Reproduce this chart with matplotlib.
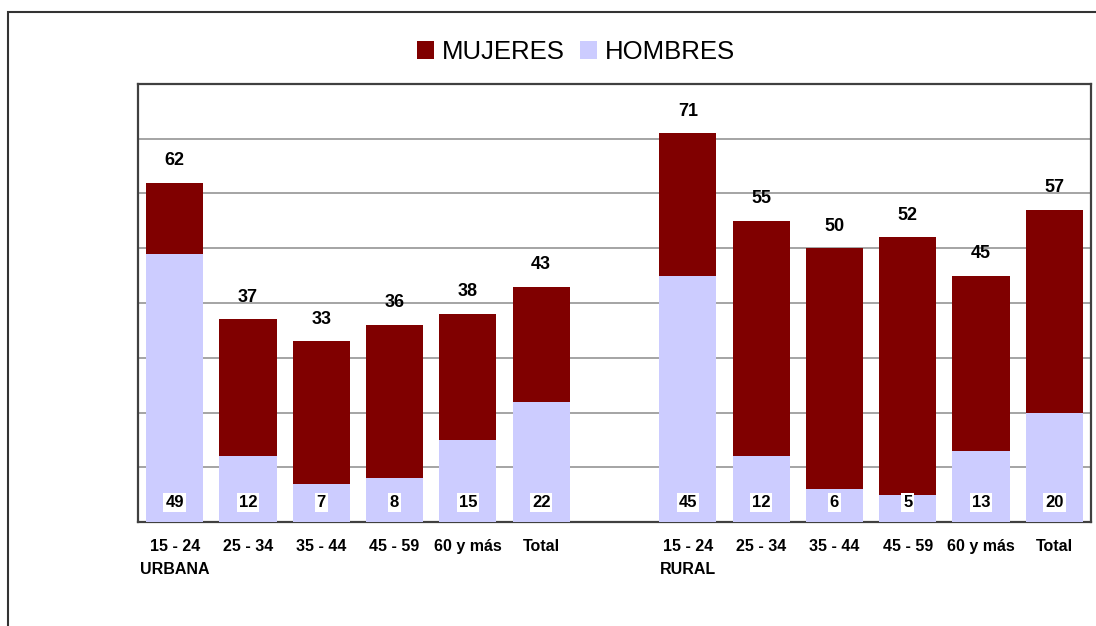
import numpy as np
import matplotlib.pyplot as plt
from matplotlib.patches import Patch, Rectangle

plt.rcParams['font.family'] = ['Liberation Sans', 'DejaVu Sans']

# Data (blank slot separates the two groups)
categories = ["15 - 24\nURBANA", "25 - 34", "35 - 44", "45 - 59", "60 y más", "Total", "",
              "15 - 24\nRURAL", "25 - 34", "35 - 44", "45 - 59", "60 y más", "Total"]
mujeres = [62, 37, 33, 36, 38, 43, None, 71, 55, 50, 52, 45, 57]
hombres = [49, 12, 7, 8, 15, 22, None, 45, 12, 6, 5, 13, 20]

C_MUJ = "#800000"
C_HOM = "#CCCCFF"

fig = plt.figure(figsize=(10.96, 6.26), dpi=100)

# outer frame (runs off the right and bottom edges)
fig.patches.append(Rectangle((8 / 1096, -0.2), 1.2, (626 - 12) / 626 + 0.2,
                             transform=fig.transFigure, fill=False,
                             edgecolor="#333333", linewidth=1.5))

ax = fig.add_axes([138 / 1096, (626 - 522) / 626, (1091 - 138) / 1096, (522 - 84) / 626])

idx = [i for i, v in enumerate(mujeres) if v is not None]
x = np.array(idx)
muj = np.array([mujeres[i] for i in idx])
hom = np.array([hombres[i] for i in idx])

ax.bar(x, muj, width=0.78, color=C_MUJ, zorder=2)
ax.bar(x, hom, width=0.78, color=C_HOM, zorder=3)

for xi, m, h in zip(x, muj, hom):
    ax.annotate(str(m), (xi, m), xytext=(0, 16), textcoords="offset points",
                ha="center", va="center", fontsize=13, fontweight="bold")
    ax.annotate(str(h), (xi, 0), xytext=(0, 14), textcoords="offset points",
                ha="center", va="center", fontsize=12, fontweight="bold", zorder=5,
                bbox=dict(boxstyle="square,pad=0.12", facecolor="white", edgecolor="none"))

ax.set_xlim(-0.5, len(categories) - 0.5)
ax.set_ylim(0, 80)
ax.set_yticks(np.arange(10, 80, 10))
ax.set_yticklabels([])
ax.set_xticks(x)
ax.set_xticklabels([categories[i] for i in idx], fontsize=11.5, fontweight="bold", linespacing=1.7)
ax.tick_params(axis="both", length=0)
ax.tick_params(axis="x", pad=12)
ax.grid(axis="y", color="#8c8c8c", linewidth=1.1, zorder=1)
ax.set_axisbelow(True)
for sp in ax.spines.values():
    sp.set_color("#404040")
    sp.set_linewidth(1.6)

handles = [Patch(facecolor=C_MUJ, label="MUJERES"), Patch(facecolor=C_HOM, label="HOMBRES")]
fig.legend(handles=handles, loc="center", bbox_to_anchor=(576 / 1096, 1 - 52 / 626), ncol=2,
           frameon=False, fontsize=18.5, handlelength=0.65, handleheight=0.65,
           handletextpad=0.3, columnspacing=0.6, borderpad=0)

fig.savefig("out.png", dpi=100)
